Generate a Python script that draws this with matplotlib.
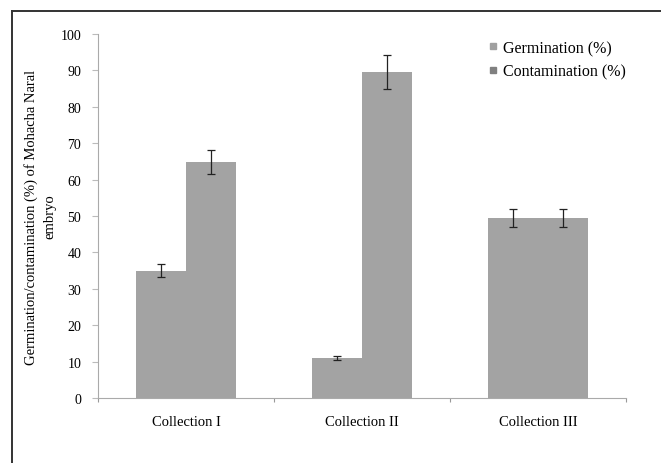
import matplotlib
matplotlib.use("Agg")
import matplotlib.pyplot as plt
from matplotlib.lines import Line2D
import numpy as np

categories = ["Collection I", "Collection II", "Collection III"]
germination = [35, 11, 49.5]
germination_err = [1.7, 0.6, 2.5]
contamination = [64.8, 89.5, 49.5]
contamination_err = [3.2, 4.7, 2.5]
yticks = [0, 10, 20, 30, 40, 50, 60, 70, 80, 90, 100]

plt.rcParams['font.family'] = ['Liberation Serif', 'DejaVu Serif']

fig = plt.figure(figsize=(6.61, 4.64), dpi=100)
ax = fig.add_axes([98/661, 65/464, 528/661, 364/464])

x = np.arange(len(categories)) + 0.5
w = 0.285
bar_col = '#a3a3a3'
ekw = dict(ecolor='#222222', elinewidth=0.9, capsize=3, capthick=0.9)
ax.bar(x - w/2, germination, w, color=bar_col, yerr=germination_err, error_kw=ekw)
ax.bar(x + w/2, contamination, w, color=bar_col, yerr=contamination_err, error_kw=ekw)

ax.set_xlim(0, 3)
ax.set_ylim(0, 100)
ax.set_yticks(yticks)
ax.set_yticklabels([str(t) for t in yticks], fontsize=10)
ax.set_xticks([0, 1, 2, 3])
ax.set_xticklabels([])
ax.set_xticks(x, minor=True)
ax.set_xticklabels(categories, minor=True, fontsize=10.5)
ax.tick_params(axis='x', which='minor', length=0, pad=12)
ax.tick_params(axis='x', which='major', length=3, color='#999999')
ax.tick_params(axis='y', length=4, color='#bbbbbb', pad=8)
for s in ['top', 'right']:
    ax.spines[s].set_visible(False)
for s in ['left', 'bottom']:
    ax.spines[s].set_color('#aaaaaa')
    ax.spines[s].set_linewidth(0.8)

ax.set_ylabel("Germination/contamination (%) of Mohacha Naral\nembryo",
              fontsize=10.5, linespacing=1.6)
ax.yaxis.set_label_coords(-0.078, 0.5)

handles = [Line2D([], [], marker='s', linestyle='none', markersize=4.5,
                  markerfacecolor='#a0a0a0', markeredgecolor='#a0a0a0'),
           Line2D([], [], marker='s', linestyle='none', markersize=4.5,
                  markerfacecolor='#808080', markeredgecolor='#808080')]
fig.legend(handles, ["Germination (%)", "Contamination (%)"],
           loc='upper left', bbox_to_anchor=(488/661, 1 - 41/464),
           frameon=False, fontsize=11.5, handlelength=0.6, handletextpad=0.35,
           labelspacing=0.45, borderaxespad=0, borderpad=0)

# outer frame (cut off at right and bottom)
fig.add_artist(Line2D([12/661, 1.0], [1 - 12/464, 1 - 12/464],
                      transform=fig.transFigure, color='#333333', lw=1.4))
fig.add_artist(Line2D([12/661, 12/661], [0, 1 - 12/464],
                      transform=fig.transFigure, color='#333333', lw=1.4))

fig.savefig("out.png", dpi=100)
